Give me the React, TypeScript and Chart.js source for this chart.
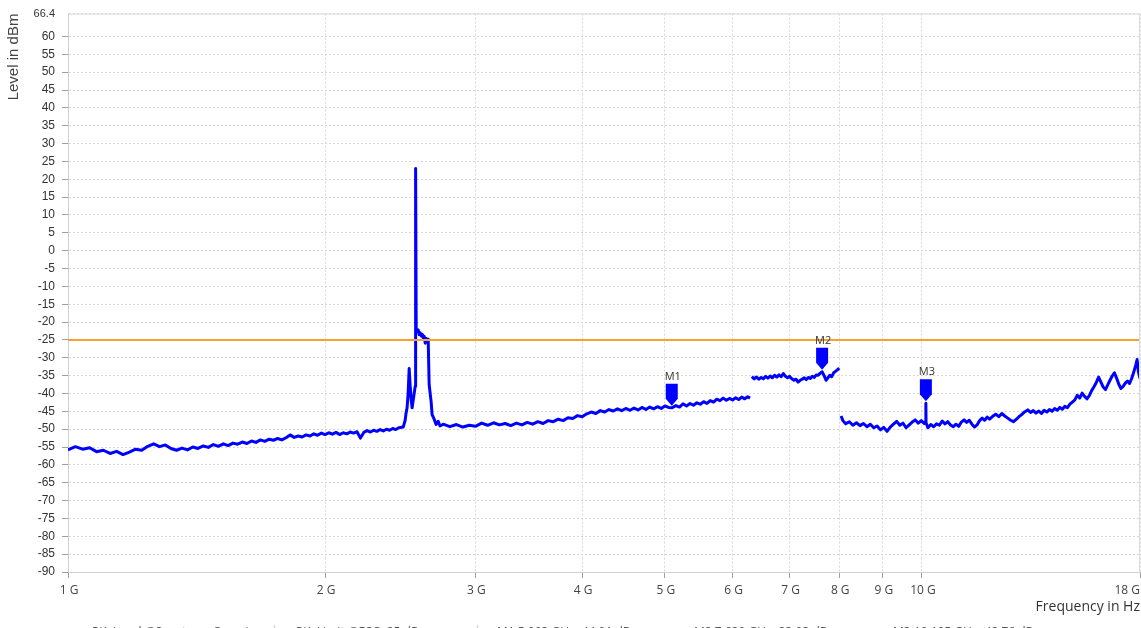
import React, { useEffect, useRef } from 'react';
import { Chart, registerables } from 'chart.js';

Chart.register(...registerables);

// ---------- data (GHz, dBm) ----------
const bandLow: [number, number][] = [
  [1.00, -55.8], [1.02, -54.9], [1.04, -55.6], [1.06, -55.2], [1.08, -56.3], [1.10, -55.9],
  [1.12, -56.8], [1.14, -56.2], [1.16, -57.1], [1.18, -56.4], [1.20, -55.6], [1.22, -55.9],
  [1.24, -54.8], [1.26, -54.1], [1.28, -54.9], [1.30, -54.4], [1.32, -55.4], [1.34, -55.9],
  [1.36, -55.3], [1.38, -55.8], [1.40, -55.0], [1.42, -55.4], [1.44, -54.7], [1.46, -55.1],
  [1.48, -54.3], [1.50, -54.8], [1.52, -54.1], [1.54, -54.6], [1.56, -53.9], [1.58, -54.2],
  [1.60, -53.6], [1.62, -54.0], [1.64, -53.3], [1.66, -53.7], [1.68, -53.0], [1.70, -53.4],
  [1.72, -52.8], [1.74, -53.1], [1.76, -52.6], [1.78, -53.0], [1.80, -52.4], [1.82, -51.6],
  [1.84, -52.3], [1.86, -51.9], [1.88, -52.2], [1.90, -51.6], [1.92, -51.9], [1.94, -51.3],
  [1.96, -51.7], [1.98, -51.1], [2.00, -51.5], [2.02, -51.0], [2.04, -51.4], [2.06, -50.9],
  [2.08, -51.5], [2.10, -51.0], [2.12, -51.3], [2.14, -50.8], [2.16, -51.1], [2.18, -50.7],
  [2.20, -52.5], [2.22, -50.9], [2.24, -50.4], [2.26, -50.8], [2.28, -50.3], [2.30, -50.6],
  [2.32, -50.1], [2.34, -50.5], [2.36, -50.0], [2.38, -50.3], [2.40, -49.8], [2.42, -50.1],
  [2.44, -49.6],
];

const bandSpike: [number, number][] = [
  [2.469, -49.4], [2.482, -47.5], [2.488, -45.5], [2.495, -44.0], [2.502, -40.0], [2.509, -33.0],
  [2.516, -38.0], [2.523, -42.0], [2.529, -44.0], [2.536, -42.0], [2.543, -40.0], [2.550, -38.0],
  [2.553, 23.0], [2.557, -21.8], [2.564, -22.6], [2.571, -22.2], [2.578, -23.5], [2.585, -23.0],
  [2.592, -23.9], [2.599, -23.4], [2.606, -24.5], [2.613, -24.0], [2.620, -25.9], [2.627, -24.6],
  [2.634, -25.5], [2.641, -24.8], [2.648, -37.6], [2.662, -42.3], [2.669, -45.9], [2.684, -47.2],
  [2.698, -48.7], [2.713, -47.8], [2.727, -49.1],
];

const bandMid: [number, number][] = [
  [2.75, -48.6], [2.80, -49.3], [2.85, -48.7], [2.90, -49.4], [2.95, -48.9], [3.00, -49.2],
  [3.05, -48.3], [3.10, -48.9], [3.15, -48.2], [3.20, -48.8], [3.25, -48.4], [3.30, -49.0],
  [3.35, -48.3], [3.40, -48.8], [3.45, -48.1], [3.50, -48.6], [3.55, -47.9], [3.60, -48.4],
  [3.65, -47.6], [3.70, -47.9], [3.75, -47.2], [3.80, -47.6], [3.85, -46.8], [3.90, -47.0],
  [3.95, -46.2], [4.00, -46.5], [4.05, -45.7], [4.10, -45.2], [4.15, -45.6], [4.20, -44.8],
  [4.25, -45.2], [4.30, -44.5], [4.35, -44.9], [4.40, -44.3], [4.45, -44.8], [4.50, -44.2],
  [4.55, -44.7], [4.60, -44.1], [4.65, -44.6], [4.70, -43.9], [4.75, -44.5], [4.80, -43.8],
  [4.85, -44.3], [4.90, -43.7], [4.95, -44.2], [5.00, -43.5], [5.05, -43.9], [5.093, -44.01],
  [5.15, -43.4], [5.20, -43.8], [5.25, -42.9], [5.30, -43.5], [5.35, -42.8], [5.40, -43.3],
  [5.45, -42.6], [5.50, -43.0], [5.55, -42.3], [5.60, -42.8], [5.65, -42.0], [5.70, -42.4],
  [5.75, -41.6], [5.80, -42.0], [5.85, -41.3], [5.90, -41.9], [5.95, -41.4], [6.00, -41.8],
  [6.05, -41.2], [6.10, -41.7], [6.15, -41.0], [6.20, -41.5], [6.25, -40.9], [6.29, -41.3],
];

const bandUpper: [number, number][] = [
  [6.32, -35.3], [6.36, -35.9], [6.40, -35.4], [6.44, -36.0], [6.48, -35.5], [6.52, -35.9],
  [6.56, -35.2], [6.60, -35.7], [6.64, -35.1], [6.68, -35.6], [6.72, -34.9], [6.76, -35.4],
  [6.80, -34.8], [6.84, -35.3], [6.88, -34.4], [6.92, -35.2], [6.96, -35.6], [7.00, -35.2],
  [7.04, -35.9], [7.08, -36.3], [7.12, -36.0], [7.16, -36.8], [7.20, -36.3], [7.24, -36.0],
  [7.28, -35.6], [7.32, -36.1], [7.36, -35.5], [7.40, -35.8], [7.44, -35.2], [7.48, -35.5],
  [7.52, -34.8], [7.56, -34.9], [7.60, -34.3], [7.639, -33.93], [7.68, -35.0], [7.72, -36.3],
  [7.76, -35.6], [7.80, -34.9], [7.84, -35.3], [7.88, -34.2], [7.92, -33.8], [7.96, -33.4],
  [8.00, -32.9],
];

const bandHigh: [number, number][] = [
  [8.04, -46.3], [8.08, -47.6], [8.14, -48.5], [8.22, -47.9], [8.30, -48.9], [8.38, -48.2],
  [8.46, -49.0], [8.54, -48.4], [8.62, -49.3], [8.70, -48.6], [8.78, -49.6], [8.86, -49.1],
  [8.94, -50.2], [9.02, -49.5], [9.10, -50.6], [9.18, -49.4], [9.26, -48.6], [9.34, -47.8],
  [9.42, -48.9], [9.50, -48.3], [9.58, -49.6], [9.66, -48.8], [9.74, -48.0], [9.82, -47.4],
  [9.90, -48.3], [9.98, -47.6], [10.06, -48.4], [10.10, -47.9], [10.105, -42.76], [10.11, -48.2],
  [10.16, -49.6], [10.24, -48.7], [10.32, -49.3], [10.40, -48.5], [10.48, -48.9], [10.56, -47.7],
  [10.64, -48.5], [10.72, -47.9], [10.80, -48.8], [10.88, -49.3], [10.96, -48.6], [11.04, -49.2],
  [11.12, -48.0], [11.20, -47.4], [11.28, -48.1], [11.36, -47.5], [11.44, -48.6], [11.52, -49.4],
  [11.60, -48.8], [11.68, -47.6], [11.76, -46.9], [11.84, -47.5], [11.92, -46.6], [12.00, -47.2],
  [12.10, -46.4], [12.20, -45.8], [12.30, -46.5], [12.40, -45.6], [12.50, -46.3], [12.60, -46.9],
  [12.70, -47.5], [12.80, -47.9], [12.90, -47.2], [13.00, -46.4], [13.10, -45.8], [13.20, -45.1],
  [13.30, -44.6], [13.40, -45.3], [13.50, -44.8], [13.60, -45.5], [13.70, -44.9], [13.80, -45.6],
  [13.90, -44.7], [14.00, -45.2], [14.10, -44.5], [14.20, -45.0], [14.30, -44.2], [14.40, -44.7],
  [14.50, -43.9], [14.60, -44.4], [14.70, -43.6], [14.80, -44.0], [14.90, -43.0], [15.00, -42.4],
  [15.10, -41.8], [15.20, -40.5], [15.30, -41.3], [15.40, -39.9], [15.50, -40.8], [15.60, -41.5],
  [15.70, -40.6], [15.80, -39.2], [15.90, -38.1], [16.00, -36.9], [16.10, -35.4], [16.20, -36.8],
  [16.30, -38.2], [16.40, -38.9], [16.50, -37.6], [16.60, -36.3], [16.70, -35.1], [16.80, -34.2],
  [16.90, -35.7], [17.00, -37.4], [17.10, -38.6], [17.20, -38.0], [17.30, -37.1], [17.40, -36.5],
  [17.50, -37.2], [17.60, -35.8], [17.70, -34.0], [17.80, -31.9], [17.86, -30.5], [17.92, -33.8],
  [18.00, -35.8],
];

const limitLevel = -25;
const freqRange = [1, 18];
const levelRange = [-90, 66.4];
const yTicks = [-90, -85, -80, -75, -70, -65, -60, -55, -50, -45, -40, -35, -30, -25, -20, -15, -10, -5, 0, 5, 10, 15, 20, 25, 30, 35, 40, 45, 50, 55, 60, 66.4];
const xTicks = [1, 2, 3, 4, 5, 6, 7, 8, 9, 10, 18];
const xTickLabels = ['1 G', '2 G', '3 G', '4 G', '5 G', '6 G', '7 G', '8 G', '9 G', '10 G', '18 G'];
const markerNames = ['M1', 'M2', 'M3'];
const markerFreqs = [5.093, 7.639, 10.105];
const markerLevels = [-44.01, -33.93, -42.76];
const legendLabels = [
  'PK: Level @Spectrum Overview',
  'PK: Limit @FCC -25 dBm',
  'M1 5.093 GHz -44.01 dBm',
  'M2 7.639 GHz -33.93 dBm',
  'M3 10.105 GHz -42.76 dBm',
];

const TRACE = '#0000ff';
const LIMIT = '#f5a133';
const GRID = '#d8d8d8';

const toPts = (arr: [number, number][]) => arr.map(([x, y]) => ({ x, y }));

const overlayPlugin = {
  id: 'overlay',
  afterDatasetsDraw(chart: any) {
    const { ctx, scales } = chart;
    const xs = scales.x;
    const ys = scales.y;
    ctx.save();
    markerFreqs.forEach((f, i) => {
      const px = xs.getPixelForValue(f);
      const py = ys.getPixelForValue(markerLevels[i]);
      ctx.fillStyle = TRACE;
      ctx.beginPath();
      ctx.moveTo(px - 6, py - 24);
      ctx.lineTo(px + 6, py - 24);
      ctx.lineTo(px + 6, py - 9);
      ctx.lineTo(px, py - 2);
      ctx.lineTo(px - 6, py - 9);
      ctx.closePath();
      ctx.fill();
      ctx.fillStyle = '#333';
      ctx.font = '11px "Open Sans", sans-serif';
      ctx.textAlign = 'center';
      ctx.textBaseline = 'middle';
      ctx.fillText(markerNames[i], px + 1, py - 31);
    });
    ctx.restore();
  },
  afterDraw(chart: any) {
    const { ctx, chartArea: ca, scales } = chart;
    const xs = scales.x;
    ctx.save();
    // plot frame (top / right)
    ctx.strokeStyle = '#dcdcdc';
    ctx.lineWidth = 1;
    ctx.beginPath();
    ctx.moveTo(ca.left, ca.top + 0.5);
    ctx.lineTo(ca.right - 0.5, ca.top + 0.5);
    ctx.lineTo(ca.right - 0.5, ca.bottom);
    ctx.stroke();

    // x tick labels
    ctx.font = '12px "Open Sans", sans-serif';
    ctx.fillStyle = '#444';
    ctx.textBaseline = 'middle';
    xTicks.forEach((v, i) => {
      const px = xs.getPixelForValue(v);
      const last = i === xTicks.length - 1;
      ctx.textAlign = last ? 'right' : 'center';
      ctx.fillText(xTickLabels[i], last ? px : px + 1, ca.bottom + 19);
    });
    // x title
    ctx.font = '14px "Open Sans", sans-serif';
    ctx.fillStyle = '#333';
    ctx.textAlign = 'right';
    ctx.fillText('Frequency in Hz', ca.right, ca.bottom + 35);

    // legend (partly below the visible area)
    const ly = ca.bottom + 61;
    ctx.font = '12px "Open Sans", sans-serif';
    ctx.fillStyle = '#555';
    ctx.textAlign = 'left';
    ctx.lineWidth = 1.5;
    ctx.strokeStyle = '#6a6aff';
    ctx.beginPath();
    ctx.arc(77, ly, 3.5, 0, Math.PI * 2);
    ctx.stroke();
    ctx.fillText(legendLabels[0], 92, ly);
    ctx.strokeStyle = '#ccc';
    ctx.lineWidth = 1;
    ctx.beginPath();
    ctx.moveTo(274.5, ly - 8);
    ctx.lineTo(274.5, ly + 8);
    ctx.moveTo(477.5, ly - 8);
    ctx.lineTo(477.5, ly + 8);
    ctx.stroke();
    ctx.strokeStyle = LIMIT;
    ctx.lineWidth = 1.5;
    ctx.beginPath();
    ctx.arc(284, ly, 3.5, 0, Math.PI * 2);
    ctx.stroke();
    ctx.fillText(legendLabels[1], 296, ly);
    const mx = [485, 682, 881];
    mx.forEach((x0, i) => {
      ctx.fillStyle = TRACE;
      ctx.fillRect(x0, ly - 3, 6, 6);
      ctx.fillStyle = '#555';
      ctx.fillText(legendLabels[2 + i], x0 + 12, ly);
    });
    ctx.restore();
  },
};

export default function App() {
  const ref = useRef<HTMLCanvasElement | null>(null);
  useEffect(() => {
    if (!ref.current) return;
    const gap = { x: 0, y: null as any };
    const trace = [
      ...toPts(bandLow),
      ...toPts(bandSpike),
      ...toPts(bandMid),
      { ...gap, x: 6.305 },
      ...toPts(bandUpper),
      { ...gap, x: 8.02 },
      ...toPts(bandHigh),
    ];
    const chart = new Chart(ref.current, {
      type: 'line',
      data: {
        datasets: [
          {
            label: legendLabels[1],
            data: [
              { x: freqRange[0], y: limitLevel },
              { x: freqRange[1], y: limitLevel },
            ],
            borderColor: LIMIT,
            borderWidth: 2,
            pointRadius: 0,
            tension: 0,
          },
          {
            label: legendLabels[0],
            data: trace,
            borderColor: TRACE,
            borderWidth: 3,
            borderJoinStyle: 'round',
            pointRadius: 0,
            tension: 0,
            spanGaps: false,
          },
        ],
      },
      options: {
        responsive: false,
        animation: false,
        layout: { padding: { top: 8, right: 1, left: 0, bottom: 0 } },
        plugins: { legend: { display: false }, tooltip: { enabled: false } },
        scales: {
          x: {
            type: 'logarithmic',
            min: freqRange[0],
            max: freqRange[1],
            afterBuildTicks: (s: any) => {
              s.ticks = xTicks.map((v) => ({ value: v }));
            },
            afterFit: (s: any) => {
              s.height = 56;
            },
            ticks: { display: false },
            grid: {
              color: GRID,
              lineWidth: 1,
              drawTicks: true,
              tickLength: 6,
              tickColor: '#a0a0a0',
            },
            border: { display: true, color: '#d0d0d0', dash: [2, 2] },
          },
          y: {
            type: 'linear',
            min: levelRange[0],
            max: levelRange[1],
            afterBuildTicks: (s: any) => {
              s.ticks = yTicks.map((v) => ({ value: v }));
            },
            afterFit: (s: any) => {
              s.width = 68;
            },
            ticks: {
              color: '#333',
              padding: 7,
              autoSkip: false,
              font: (c: any) => ({
                family: '"Liberation Sans", Arial, sans-serif',
                size: c.tick && c.tick.value === 66.4 ? 11 : 12,
              }),
              callback: (v: any) => String(v),
            },
            grid: {
              color: GRID,
              lineWidth: 1,
              drawTicks: true,
              tickLength: 6,
              tickColor: (c: any) => (c.tick && c.tick.value === 66.4 ? 'rgba(0,0,0,0)' : '#a0a0a0'),
            },
            border: { display: true, color: '#d0d0d0', dash: [2, 2] },
            title: {
              display: true,
              text: 'Level in dBm',
              align: 'end',
              color: '#444',
              font: { family: '"Liberation Sans", Arial, sans-serif', size: 15 },
              padding: { top: 5, bottom: 0 },
            },
          },
        },
      },
      plugins: [overlayPlugin],
    } as any);
    return () => chart.destroy();
  }, []);

  return (
    <div
      style={{
        position: 'fixed',
        left: 0,
        top: 0,
        width: 1141,
        height: 628,
        overflow: 'hidden',
        background: '#fff',
      }}
    >
      <canvas ref={ref} width={1141} height={628} style={{ display: 'block', width: 1141, height: 628 }} />
    </div>
  );
}
